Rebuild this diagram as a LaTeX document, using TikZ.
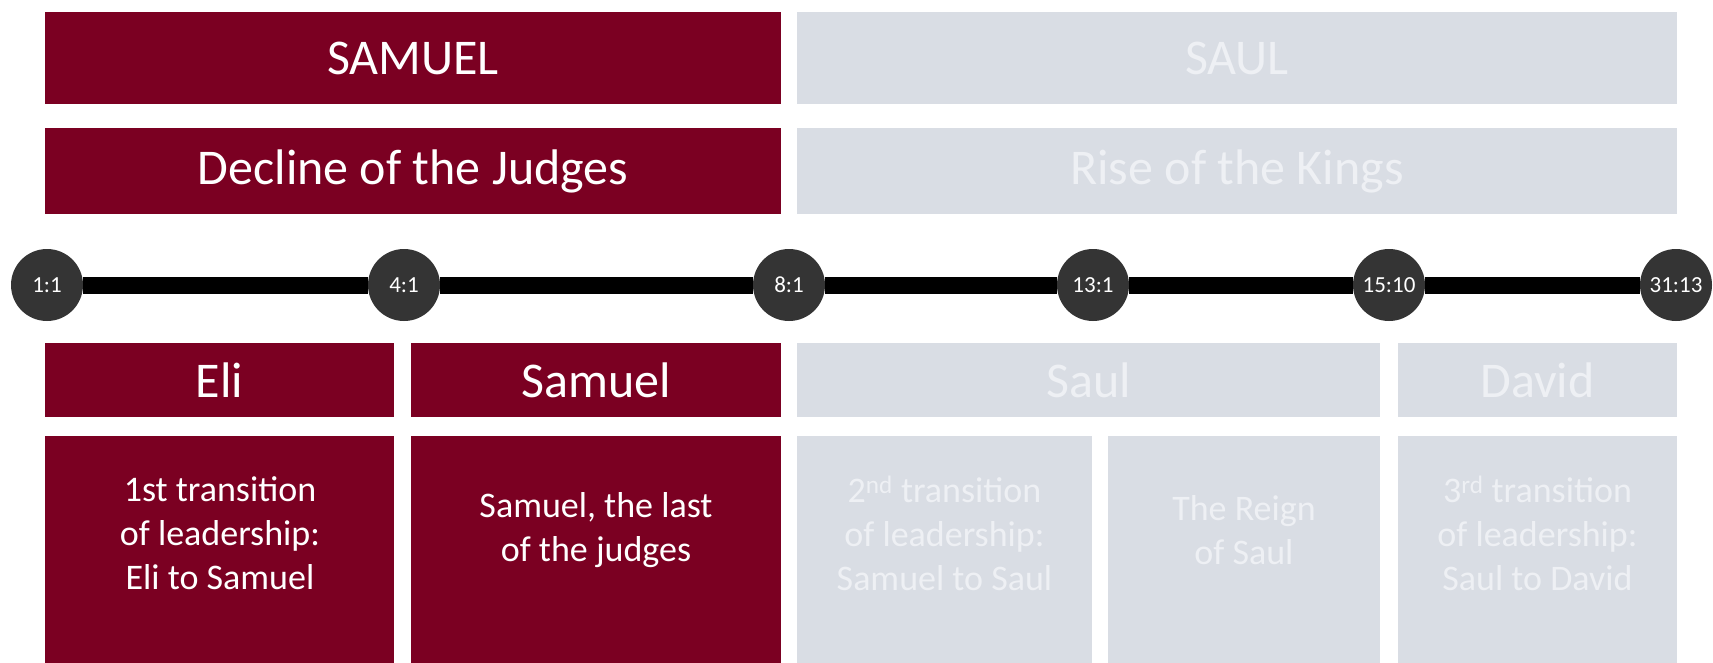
\documentclass[tikz,border=0pt]{standalone}
\usepackage{fontspec}
\setmainfont{Carlito}
\definecolor{myred}{RGB}{123,0,34}
\definecolor{mygray}{RGB}{217,221,228}
\definecolor{paletext}{RGB}{238,240,244}
\definecolor{dotgray}{RGB}{52,52,52}
\begin{document}
\begin{tikzpicture}[x=1pt,y=-1pt,
  box/.style={anchor=north west, inner sep=0pt, outer sep=0pt, draw=none},
  redbox/.style={box, fill=myred, text=white},
  graybox/.style={box, fill=mygray, text=paletext},
  title/.style={font=\fontsize{50}{60}\selectfont},
  body/.style={font=\fontsize{36}{44}\selectfont, align=center, inner sep=0pt},
  dot/.style={circle, fill=dotgray, minimum size=72pt, inner sep=0pt, text=white, font=\fontsize{23}{26}\selectfont},
  tl/.style={line width=17pt, black}
]
\useasboundingbox (0,0) rectangle (1713,663);
\fill[white] (0,0) rectangle (1713,663);
% top rows
\node[redbox, title, minimum width=736pt, minimum height=92pt] (samuelTop) at (45,12) {SAMUEL};
\node[graybox, title, minimum width=880pt, minimum height=92pt] (saulTop) at (797,12) {SAUL};
\node[redbox, title, minimum width=736pt, minimum height=86pt] (decline) at (45,128) {Decline of the Judges};
\node[graybox, title, minimum width=880pt, minimum height=86pt] (rise) at (797,128) {Rise of the Kings};
% timeline
\node[dot] (c1) at (47,285) {1:1};
\node[dot] (c2) at (404,285) {4:1};
\node[dot] (c3) at (789,285) {8:1};
\node[dot] (c4) at (1093,285) {13:1};
\node[dot] (c5) at (1389,285) {15:10};
\node[dot] (c6) at (1676,285) {31:13};
\draw[tl] (c1) -- (c2);
\draw[tl] (c2) -- (c3);
\draw[tl] (c3) -- (c4);
\draw[tl] (c4) -- (c5);
\draw[tl] (c5) -- (c6);
% third row
\node[redbox, title, minimum width=349pt, minimum height=74pt] (eli) at (45,343) {Eli};
\node[redbox, title, minimum width=370pt, minimum height=74pt] (samuel) at (411,343) {Samuel};
\node[graybox, title, minimum width=583pt, minimum height=74pt] (saul) at (797,343) {Saul};
\node[graybox, title, minimum width=279pt, minimum height=74pt] (david) at (1398,343) {David};
% fourth row boxes
\node[redbox, minimum width=349pt, minimum height=227pt] (b1) at (45,436) {};
\node[redbox, minimum width=370pt, minimum height=227pt] (b2) at (411,436) {};
\node[graybox, minimum width=295pt, minimum height=227pt] (b3) at (797,436) {};
\node[graybox, minimum width=272pt, minimum height=227pt] (b4) at (1108,436) {};
\node[graybox, minimum width=279pt, minimum height=227pt] (b5) at (1398,436) {};
% fourth row texts
\node[body, text=white] (t1) at (220,533) {1st transition\\of leadership:\\Eli to Samuel};
\node[body, text=white] (t2) at (596,530) {Samuel, the last\\of the judges};
\node[body, text=paletext] (t3) at (944.5,533) {2\textsuperscript{nd} transition\\of leadership:\\Samuel to Saul};
\node[body, text=paletext] (t4) at (1244,530) {The Reign\\of Saul};
\node[body, text=paletext] (t5) at (1537.5,533) {3\textsuperscript{rd} transition\\of leadership:\\Saul to David};
\end{tikzpicture}
\end{document}
